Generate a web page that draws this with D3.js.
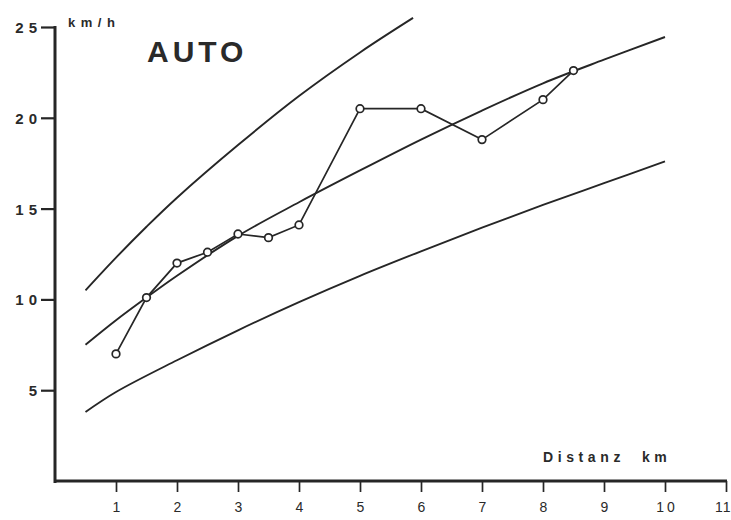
<!DOCTYPE html>
<html>
<head>
<meta charset="utf-8">
<script src="https://cdn.jsdelivr.net/npm/d3@7"></script>
<style>
  html, body { margin: 0; padding: 0; background: #fff; }
  svg { display: block; }
  text { font-family: "Liberation Sans", Arial, sans-serif; fill: #2a2a2a; }
</style>
</head>
<body>
<svg id="chart" width="731" height="520"></svg>
<script>
// ---- data ----
const xTicks = [1, 2, 3, 4, 5, 6, 7, 8, 9, 10, 11];
const yTicks = [5, 10, 15, 20, 25];
const obsDist = [1, 1.5, 2, 2.5, 3, 3.5, 4, 5, 6, 7, 8, 8.5];
const obsSpeed = [7.0, 10.1, 12.0, 12.6, 13.6, 13.4, 14.1, 20.5, 20.5, 18.8, 21.0, 22.6];
const midDist = [0.5, 1, 1.5, 2, 3, 4, 5, 6, 7, 8, 9, 10];
const midSpeed = [7.5, 8.85, 10.1, 11.3, 13.5, 15.35, 17.1, 18.8, 20.4, 21.9, 23.2, 24.45];
const upDist = [0.5, 1, 1.5, 2, 3, 4, 5, 5.87];
const upSpeed = [10.5, 12.3, 14.0, 15.6, 18.5, 21.2, 23.6, 25.5];
const lowDist = [0.5, 1, 2, 3, 4, 5, 6, 7, 8, 9, 10];
const lowSpeed = [3.8, 4.9, 6.65, 8.3, 9.85, 11.3, 12.65, 13.95, 15.2, 16.4, 17.6];
const title = "AUTO";
const yUnit = "km/h";
const xLabel = "Distanz  km";

// ---- layout ----
const ink = "#262626";
const svg = d3.select("#chart");
const x = d3.scaleLinear().domain([0, 11]).range([55, 726]);
const y = d3.scaleLinear().domain([0, 25]).range([481, 27]);

// y axis
const yAxis = d3.axisLeft(y).tickValues(yTicks).tickSize(14).tickPadding(-1).tickFormat(d3.format("d"));
const gy = svg.append("g").attr("transform", `translate(${x(0)},0)`).call(yAxis);
gy.select(".domain").remove();
gy.selectAll(".tick line").attr("stroke", ink).attr("stroke-width", 2.2);
gy.selectAll(".tick text").attr("fill", ink).style("font-size", "15px").style("font-weight", "bold")
  .style("letter-spacing", "5px").attr("dy", "0.36em");
svg.append("line").attr("x1", x(0)).attr("x2", x(0)).attr("y1", y(25) - 1).attr("y2", y(0) + 2)
  .attr("stroke", ink).attr("stroke-width", 3);

// x axis
const xAxis = d3.axisBottom(x).tickValues(xTicks).tickSize(11).tickPadding(10).tickFormat(d3.format("d"));
const gx = svg.append("g").attr("transform", `translate(0,${y(0)})`).call(xAxis);
gx.select(".domain").remove();
gx.selectAll(".tick line").attr("stroke", ink).attr("stroke-width", 1.7);
gx.selectAll(".tick text").attr("fill", ink).style("font-size", "14px")
  .style("letter-spacing", "3px").attr("dx", "1.5px");
gx.selectAll(".tick").filter(d => d === 11).select("text")
  .attr("text-anchor", "end").attr("x", 731 - x(11)).attr("dx", "0px").style("letter-spacing", "1px");
svg.append("line").attr("x1", x(0) - 1).attr("x2", x(11) + 1).attr("y1", y(0)).attr("y2", y(0))
  .attr("stroke", ink).attr("stroke-width", 3.2);

// curves
const curveLine = d3.line().x(d => x(d[0])).y(d => y(d[1])).curve(d3.curveCatmullRom.alpha(0.5));
const mk = (xs, ys) => xs.map((v, i) => [v, ys[i]]);
[mk(upDist, upSpeed), mk(midDist, midSpeed), mk(lowDist, lowSpeed)].forEach(pts => {
  svg.append("path").attr("d", curveLine(pts)).attr("fill", "none")
    .attr("stroke", ink).attr("stroke-width", 1.9);
});

// observations
const obs = mk(obsDist, obsSpeed);
const polyLine = d3.line().x(d => x(d[0])).y(d => y(d[1]));
svg.append("path").attr("d", polyLine(obs)).attr("fill", "none")
  .attr("stroke", ink).attr("stroke-width", 1.7);
svg.selectAll("circle.obs").data(obs).enter().append("circle")
  .attr("class", "obs")
  .attr("cx", d => x(d[0])).attr("cy", d => y(d[1])).attr("r", 3.8)
  .attr("fill", "#fff").attr("stroke", ink).attr("stroke-width", 1.7);

// texts
svg.append("text").attr("x", 68).attr("y", 27).text(yUnit)
  .style("font-size", "13px").style("font-weight", "bold").style("letter-spacing", "5.5px");
svg.append("text").attr("x", 147).attr("y", 62).text(title)
  .style("font-size", "30px").style("font-weight", "bold").style("letter-spacing", "4px");
svg.append("text").attr("x", 543).attr("y", 462).text(xLabel)
  .style("font-size", "14px").style("font-weight", "bold").style("letter-spacing", "4.6px").style("white-space", "pre");
</script>
</body>
</html>
